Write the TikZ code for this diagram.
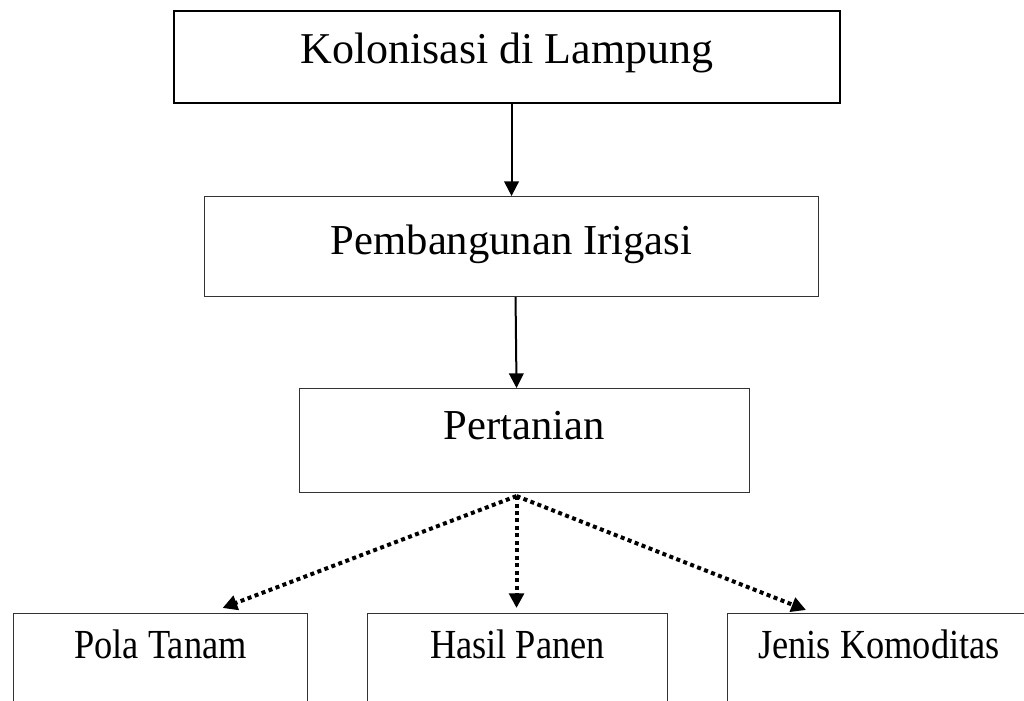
\documentclass[tikz,border=0pt]{standalone}
\usepackage{fontspec}
\setmainfont{Liberation Serif}
\newfontfamily\narrowserif[FakeStretch=0.88]{Liberation Serif}
\usepackage{tikz}
\usetikzlibrary{arrows.meta, positioning, calc}

\tikzset{
  box/.style={draw=black!80, line width=0.8pt, inner sep=0pt, anchor=north west, align=center},
  lowbox/.style={box, text height=33.75pt, text depth=75pt, font=\narrowserif\fontsize{31}{36}\selectfont},
  solidarrow/.style={line width=1.5pt, -{Triangle[length=11pt, width=11pt]}},
  dotarrow/.style={line width=3pt, dash pattern=on 3pt off 2.6pt, -{Triangle[length=11pt, width=11pt]}}
}

\begin{document}
\begin{tikzpicture}[x=0.75pt, y=-0.75pt]
    \clip (0,0) rectangle (1024,700);
    \fill[white] (0,0) rectangle (1024,700);

    % Main chain
    \node[box, line width=1.5pt, black, minimum width=499.5pt, text height=39pt, text depth=30pt,
          font=\fontsize{33}{38}\selectfont] (kolonisasi) at (173,10) {Kolonisasi di Lampung};
    \node[box, minimum width=460.5pt, text height=43.5pt, text depth=31.5pt,
          font=\fontsize{32}{38}\selectfont] (irigasi) at (204,196) {Pembangunan Irigasi};
    \node[box, minimum width=337.5pt, text height=38.5pt, text depth=39.5pt,
          font=\fontsize{32}{38}\selectfont] (pertanian) at (299,388) {Pertanian};

    % Bottom row
    \node[lowbox, minimum width=220.5pt] (pola) at (13,613) {Pola Tanam};
    \node[lowbox, minimum width=225pt] (hasil) at (367,613) {Hasil Panen};
    \node[lowbox, minimum width=227.25pt] (jenis) at (727,613) {Jenis Komoditas};

    % Arrows
    \draw[solidarrow] (kolonisasi.south -| irigasi.north) -- (irigasi.north);
    \draw[solidarrow] ($(irigasi.south)+(4,0)$) -- ($(pertanian.north)+(-8,0)$);

    \coordinate (fork) at ($(pertanian.south)+(-8,3)$);
    \draw[dotarrow] (fork) -- ($(pola.north)+(62,-5)$);
    \draw[dotarrow] (fork) -- ($(hasil.north)+(-1,-5)$);
    \draw[dotarrow] (fork) -- ($(jenis.north)+(-73,-3)$);
\end{tikzpicture}
\end{document}
